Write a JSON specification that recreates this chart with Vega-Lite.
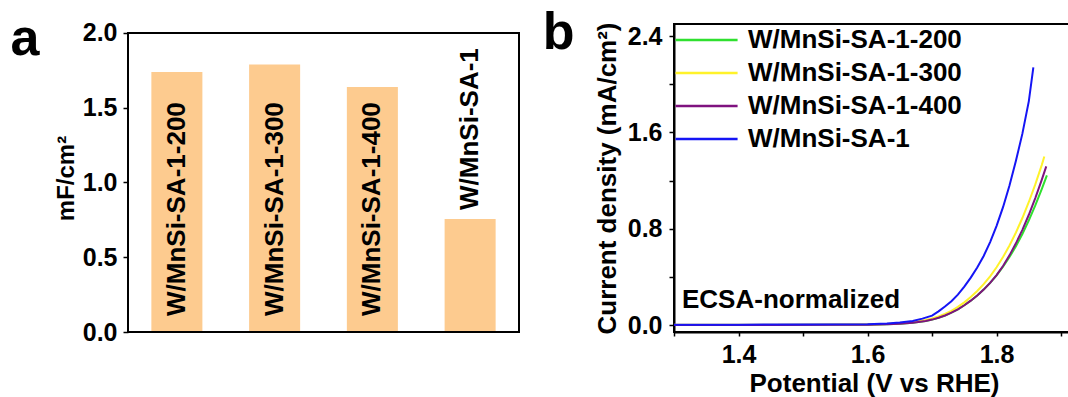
{
  "$schema": "https://vega.github.io/schema/vega-lite/v6.json",
  "padding": {"left": 10, "top": 5, "right": 0, "bottom": 0},
  "spacing": 21,
  "resolve": {"scale": {"color": "independent"}, "legend": {"color": "independent"}},
  "config": {
    "font": "Liberation Sans",
    "view": {"stroke": "black", "strokeWidth": 2},
    "axis": {
      "grid": false,
      "domainColor": "black",
      "domainWidth": 2,
      "tickColor": "black",
      "tickWidth": 1.5,
      "labelFont": "Liberation Sans",
      "labelFontSize": 25,
      "labelFontWeight": "bold",
      "labelColor": "black",
      "labelOverlap": false,
      "titleFont": "Liberation Sans",
      "titleFontSize": 26,
      "titleFontWeight": "bold",
      "titleColor": "black"
    },
    "title": {"font": "Liberation Sans", "fontSize": 52, "fontWeight": "bold", "color": "black"}
  },
  "hconcat": [
    {
      "width": 391,
      "height": 308,
      "view": {"stroke": null},
      "title": {"text": "a", "orient": "left", "anchor": "end", "angle": 0, "align": "right", "baseline": "alphabetic", "offset": 16, "dx": 30, "dy": 34.5},
      "data": {"values": [
        {"sample": "W/MnSi-SA-1-200", "cap": 1.739},
        {"sample": "W/MnSi-SA-1-300", "cap": 1.79},
        {"sample": "W/MnSi-SA-1-400", "cap": 1.639},
        {"sample": "W/MnSi-SA-1", "cap": 0.756}
      ]},
      "layer": [
        {
          "mark": {"type": "bar", "color": "#FDCB8F"},
          "encoding": {
            "x": {"field": "sample", "type": "nominal", "sort": null, "axis": null,
                  "scale": {"paddingInner": 0.478, "paddingOuter": 0.239}},
            "y": {"field": "cap", "type": "quantitative",
                  "scale": {"domain": [0, 2.0602], "nice": false},
                  "axis": {"title": "mF/cm²", "titleFontSize": 24, "titlePadding": 4, "domain": false,
                           "values": [0, 0.25, 0.5, 0.75, 1, 1.25, 1.5, 1.75, 2],
                           "labelExpr": "datum.value % 0.5 == 0 ? format(datum.value, '.1f') : ''",
                           "tickSize": 5, "labelPadding": 6}}
          }
        },
        {
          "transform": [{"filter": "datum.cap > 1"}],
          "mark": {"type": "text", "angle": 270, "align": "left", "baseline": "middle", "dx": 16,
                   "fontSize": 26, "fontWeight": "bold", "color": "black", "font": "Liberation Sans"},
          "encoding": {
            "x": {"field": "sample", "type": "nominal", "sort": null},
            "y": {"datum": 0, "type": "quantitative"},
            "text": {"field": "sample"}
          }
        },
        {
          "transform": [{"filter": "datum.cap <= 1"}],
          "mark": {"type": "text", "angle": 270, "align": "left", "baseline": "middle", "dx": 9,
                   "fontSize": 26, "fontWeight": "bold", "color": "black", "font": "Liberation Sans"},
          "encoding": {
            "x": {"field": "sample", "type": "nominal", "sort": null},
            "y": {"field": "cap", "type": "quantitative"},
            "text": {"field": "sample"}
          }
        },
        {
          "data": {"values": [{"frame": "box"}]},
          "mark": {"type": "rect", "filled": false, "stroke": "black", "strokeWidth": 2},
          "encoding": {
            "y": {"datum": 0, "type": "quantitative"},
            "y2": {"datum": 2}
          }
        }
      ]
    },
    {
      "width": 400,
      "height": 308,
      "title": {"text": "b", "orient": "left", "anchor": "end", "angle": 0, "align": "right", "baseline": "alphabetic", "offset": 20, "dx": 32, "dy": 27},
      "layer": [
        {
          "data": {"values": [
            {"sample": "W/MnSi-SA-1-200", "V": 1.30, "j": 0.003},
            {"sample": "W/MnSi-SA-1-200", "V": 1.45, "j": 0.003},
            {"sample": "W/MnSi-SA-1-200", "V": 1.55, "j": 0.004},
            {"sample": "W/MnSi-SA-1-200", "V": 1.60, "j": 0.005},
            {"sample": "W/MnSi-SA-1-200", "V": 1.63, "j": 0.008},
            {"sample": "W/MnSi-SA-1-200", "V": 1.65, "j": 0.013},
            {"sample": "W/MnSi-SA-1-200", "V": 1.67, "j": 0.021},
            {"sample": "W/MnSi-SA-1-200", "V": 1.69, "j": 0.036},
            {"sample": "W/MnSi-SA-1-200", "V": 1.70, "j": 0.047},
            {"sample": "W/MnSi-SA-1-200", "V": 1.71, "j": 0.062},
            {"sample": "W/MnSi-SA-1-200", "V": 1.72, "j": 0.081},
            {"sample": "W/MnSi-SA-1-200", "V": 1.73, "j": 0.104},
            {"sample": "W/MnSi-SA-1-200", "V": 1.74, "j": 0.132},
            {"sample": "W/MnSi-SA-1-200", "V": 1.75, "j": 0.166},
            {"sample": "W/MnSi-SA-1-200", "V": 1.76, "j": 0.204},
            {"sample": "W/MnSi-SA-1-200", "V": 1.77, "j": 0.247},
            {"sample": "W/MnSi-SA-1-200", "V": 1.78, "j": 0.296},
            {"sample": "W/MnSi-SA-1-200", "V": 1.79, "j": 0.352},
            {"sample": "W/MnSi-SA-1-200", "V": 1.80, "j": 0.414},
            {"sample": "W/MnSi-SA-1-200", "V": 1.81, "j": 0.486},
            {"sample": "W/MnSi-SA-1-200", "V": 1.82, "j": 0.566},
            {"sample": "W/MnSi-SA-1-200", "V": 1.83, "j": 0.655},
            {"sample": "W/MnSi-SA-1-200", "V": 1.84, "j": 0.757},
            {"sample": "W/MnSi-SA-1-200", "V": 1.85, "j": 0.870},
            {"sample": "W/MnSi-SA-1-200", "V": 1.86, "j": 0.994},
            {"sample": "W/MnSi-SA-1-200", "V": 1.87, "j": 1.129},
            {"sample": "W/MnSi-SA-1-200", "V": 1.878, "j": 1.244},

            {"sample": "W/MnSi-SA-1-300", "V": 1.30, "j": 0.004},
            {"sample": "W/MnSi-SA-1-300", "V": 1.45, "j": 0.004},
            {"sample": "W/MnSi-SA-1-300", "V": 1.55, "j": 0.005},
            {"sample": "W/MnSi-SA-1-300", "V": 1.60, "j": 0.006},
            {"sample": "W/MnSi-SA-1-300", "V": 1.63, "j": 0.010},
            {"sample": "W/MnSi-SA-1-300", "V": 1.65, "j": 0.016},
            {"sample": "W/MnSi-SA-1-300", "V": 1.67, "j": 0.026},
            {"sample": "W/MnSi-SA-1-300", "V": 1.69, "j": 0.043},
            {"sample": "W/MnSi-SA-1-300", "V": 1.70, "j": 0.056},
            {"sample": "W/MnSi-SA-1-300", "V": 1.71, "j": 0.073},
            {"sample": "W/MnSi-SA-1-300", "V": 1.72, "j": 0.094},
            {"sample": "W/MnSi-SA-1-300", "V": 1.73, "j": 0.120},
            {"sample": "W/MnSi-SA-1-300", "V": 1.74, "j": 0.152},
            {"sample": "W/MnSi-SA-1-300", "V": 1.75, "j": 0.190},
            {"sample": "W/MnSi-SA-1-300", "V": 1.76, "j": 0.234},
            {"sample": "W/MnSi-SA-1-300", "V": 1.77, "j": 0.284},
            {"sample": "W/MnSi-SA-1-300", "V": 1.78, "j": 0.341},
            {"sample": "W/MnSi-SA-1-300", "V": 1.79, "j": 0.406},
            {"sample": "W/MnSi-SA-1-300", "V": 1.80, "j": 0.481},
            {"sample": "W/MnSi-SA-1-300", "V": 1.81, "j": 0.566},
            {"sample": "W/MnSi-SA-1-300", "V": 1.82, "j": 0.662},
            {"sample": "W/MnSi-SA-1-300", "V": 1.83, "j": 0.770},
            {"sample": "W/MnSi-SA-1-300", "V": 1.84, "j": 0.890},
            {"sample": "W/MnSi-SA-1-300", "V": 1.85, "j": 1.023},
            {"sample": "W/MnSi-SA-1-300", "V": 1.86, "j": 1.169},
            {"sample": "W/MnSi-SA-1-300", "V": 1.87, "j": 1.329},
            {"sample": "W/MnSi-SA-1-300", "V": 1.874, "j": 1.400},

            {"sample": "W/MnSi-SA-1-400", "V": 1.30, "j": 0.003},
            {"sample": "W/MnSi-SA-1-400", "V": 1.45, "j": 0.003},
            {"sample": "W/MnSi-SA-1-400", "V": 1.55, "j": 0.004},
            {"sample": "W/MnSi-SA-1-400", "V": 1.60, "j": 0.005},
            {"sample": "W/MnSi-SA-1-400", "V": 1.63, "j": 0.008},
            {"sample": "W/MnSi-SA-1-400", "V": 1.65, "j": 0.013},
            {"sample": "W/MnSi-SA-1-400", "V": 1.67, "j": 0.021},
            {"sample": "W/MnSi-SA-1-400", "V": 1.69, "j": 0.036},
            {"sample": "W/MnSi-SA-1-400", "V": 1.70, "j": 0.047},
            {"sample": "W/MnSi-SA-1-400", "V": 1.71, "j": 0.062},
            {"sample": "W/MnSi-SA-1-400", "V": 1.72, "j": 0.081},
            {"sample": "W/MnSi-SA-1-400", "V": 1.73, "j": 0.104},
            {"sample": "W/MnSi-SA-1-400", "V": 1.74, "j": 0.132},
            {"sample": "W/MnSi-SA-1-400", "V": 1.75, "j": 0.166},
            {"sample": "W/MnSi-SA-1-400", "V": 1.76, "j": 0.204},
            {"sample": "W/MnSi-SA-1-400", "V": 1.77, "j": 0.247},
            {"sample": "W/MnSi-SA-1-400", "V": 1.78, "j": 0.296},
            {"sample": "W/MnSi-SA-1-400", "V": 1.79, "j": 0.352},
            {"sample": "W/MnSi-SA-1-400", "V": 1.80, "j": 0.416},
            {"sample": "W/MnSi-SA-1-400", "V": 1.81, "j": 0.492},
            {"sample": "W/MnSi-SA-1-400", "V": 1.82, "j": 0.580},
            {"sample": "W/MnSi-SA-1-400", "V": 1.83, "j": 0.680},
            {"sample": "W/MnSi-SA-1-400", "V": 1.84, "j": 0.792},
            {"sample": "W/MnSi-SA-1-400", "V": 1.85, "j": 0.917},
            {"sample": "W/MnSi-SA-1-400", "V": 1.86, "j": 1.055},
            {"sample": "W/MnSi-SA-1-400", "V": 1.87, "j": 1.206},
            {"sample": "W/MnSi-SA-1-400", "V": 1.877, "j": 1.318},

            {"sample": "W/MnSi-SA-1", "V": 1.30, "j": 0.005},
            {"sample": "W/MnSi-SA-1", "V": 1.40, "j": 0.005},
            {"sample": "W/MnSi-SA-1", "V": 1.50, "j": 0.006},
            {"sample": "W/MnSi-SA-1", "V": 1.60, "j": 0.008},
            {"sample": "W/MnSi-SA-1", "V": 1.63, "j": 0.014},
            {"sample": "W/MnSi-SA-1", "V": 1.65, "j": 0.022},
            {"sample": "W/MnSi-SA-1", "V": 1.67, "j": 0.036},
            {"sample": "W/MnSi-SA-1", "V": 1.685, "j": 0.055},
            {"sample": "W/MnSi-SA-1", "V": 1.70, "j": 0.080},
            {"sample": "W/MnSi-SA-1", "V": 1.71, "j": 0.115},
            {"sample": "W/MnSi-SA-1", "V": 1.72, "j": 0.155},
            {"sample": "W/MnSi-SA-1", "V": 1.73, "j": 0.200},
            {"sample": "W/MnSi-SA-1", "V": 1.74, "j": 0.254},
            {"sample": "W/MnSi-SA-1", "V": 1.75, "j": 0.320},
            {"sample": "W/MnSi-SA-1", "V": 1.76, "j": 0.395},
            {"sample": "W/MnSi-SA-1", "V": 1.77, "j": 0.480},
            {"sample": "W/MnSi-SA-1", "V": 1.78, "j": 0.575},
            {"sample": "W/MnSi-SA-1", "V": 1.79, "j": 0.690},
            {"sample": "W/MnSi-SA-1", "V": 1.80, "j": 0.825},
            {"sample": "W/MnSi-SA-1", "V": 1.81, "j": 0.980},
            {"sample": "W/MnSi-SA-1", "V": 1.82, "j": 1.160},
            {"sample": "W/MnSi-SA-1", "V": 1.83, "j": 1.365},
            {"sample": "W/MnSi-SA-1", "V": 1.84, "j": 1.590},
            {"sample": "W/MnSi-SA-1", "V": 1.85, "j": 1.860},
            {"sample": "W/MnSi-SA-1", "V": 1.857, "j": 2.140}
          ]},
          "mark": {"type": "line", "strokeWidth": 2, "clip": true},
          "encoding": {
            "x": {"field": "V", "type": "quantitative",
                  "scale": {"domain": [1.3, 1.92], "nice": false, "zero": false},
                  "axis": {"title": "Potential (V vs RHE)", "values": [1.3, 1.4, 1.5, 1.6, 1.7, 1.8, 1.9],
                           "labelExpr": "indexof(['1.4','1.6','1.8'], format(datum.value, '.1f')) >= 0 ? format(datum.value, '.1f') : ''",
                           "labelFlush": false, "tickSize": 4, "labelPadding": 6, "titlePadding": 3}},
            "y": {"field": "j", "type": "quantitative",
                  "scale": {"domain": [-0.056, 2.5], "nice": false, "zero": false},
                  "axis": {"title": "Current density (mA/cm²)", "values": [0, 0.4, 0.8, 1.2, 1.6, 2.0, 2.4],
                           "labelExpr": "indexof(['0.0','0.8','1.6','2.4'], format(datum.value, '.1f')) >= 0 ? format(datum.value, '.1f') : ''",
                           "tickSize": 5, "labelPadding": 7, "titlePadding": 7}},
            "color": {"field": "sample", "type": "nominal",
                      "scale": {"domain": ["W/MnSi-SA-1-200", "W/MnSi-SA-1-300", "W/MnSi-SA-1-400", "W/MnSi-SA-1"],
                                "range": ["#2FE02F", "#FFF22A", "#7F127F", "#1515F5"]},
                      "legend": {"orient": "top-left", "offset": 3, "padding": 0, "title": null,
                                 "symbolType": "M-1.4,0H4.6", "symbolSize": 428, "symbolStrokeWidth": 2.5,
                                 "labelFont": "Liberation Sans", "labelFontSize": 26, "labelFontWeight": "bold",
                                 "labelColor": "black", "labelOffset": 45, "labelLimit": 400, "rowPadding": 7}}
          }
        },
        {
          "data": {"values": [{"label": "ECSA-normalized"}]},
          "mark": {"type": "text", "align": "left", "baseline": "alphabetic", "fontSize": 26, "fontWeight": "bold",
                   "color": "black", "font": "Liberation Sans"},
          "encoding": {
            "x": {"datum": 1.3124, "type": "quantitative"},
            "y": {"datum": 0.144, "type": "quantitative"},
            "text": {"field": "label"}
          }
        }
      ]
    }
  ]
}
